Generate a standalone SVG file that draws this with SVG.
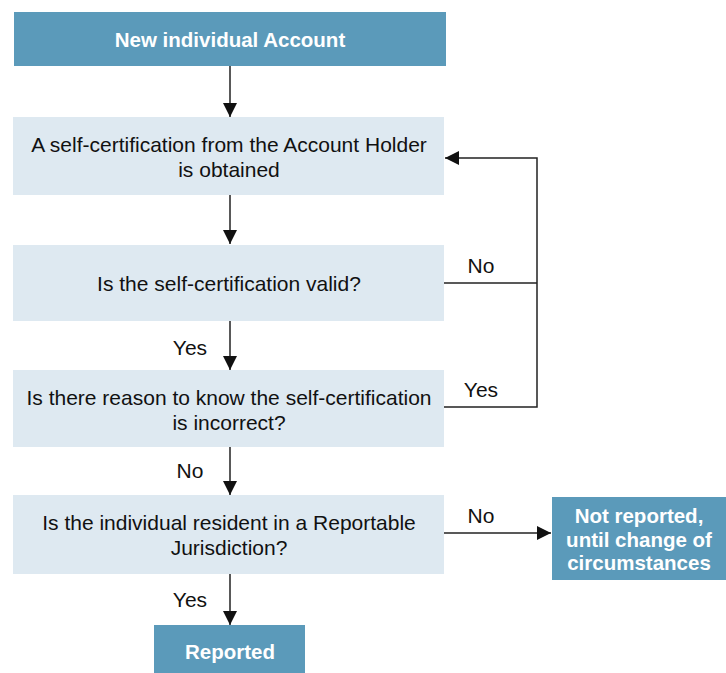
<svg xmlns="http://www.w3.org/2000/svg" width="726" height="673" viewBox="0 0 726 673">
<style>
.dark{fill:#5b9aba}
.light{fill:#dee9f1}
.t{font-family:"Liberation Sans",Arial,sans-serif;font-size:21px;fill:#111;text-anchor:middle}
.tb{font-family:"Liberation Sans",Arial,sans-serif;font-size:20.5px;font-weight:bold;fill:#fff;text-anchor:middle}
.lbl{font-family:"Liberation Sans",Arial,sans-serif;font-size:21px;fill:#111;text-anchor:middle}
.c{fill:none;stroke:#222;stroke-width:1.5}
</style>
<defs>
<marker id="ahl" viewBox="0 0 10 10" refX="10" refY="5" markerWidth="14" markerHeight="14" markerUnits="userSpaceOnUse" orient="auto">
<path d="M0,0 L10,5 L0,10 z" fill="#111"/>
</marker>
</defs>
<rect width="726" height="673" fill="#fff"/>
<g id="connectors">
<line class="c" x1="230" y1="66" x2="230" y2="117" marker-end="url(#ahl)"/>
<line class="c" x1="230" y1="195" x2="230" y2="244" marker-end="url(#ahl)"/>
<line class="c" x1="230" y1="321" x2="230" y2="370" marker-end="url(#ahl)"/>
<line class="c" x1="230" y1="447" x2="230" y2="495" marker-end="url(#ahl)"/>
<line class="c" x1="230" y1="574" x2="230" y2="625" marker-end="url(#ahl)"/>
<polyline class="c" points="444,283 537,283"/>
<polyline class="c" points="444,407 537,407 537,158 445,158" marker-end="url(#ahl)"/>
<line class="c" x1="444" y1="533" x2="551" y2="533" marker-end="url(#ahl)"/>
<text class="lbl" x="481" y="273">No</text>
<text class="lbl" x="481" y="397">Yes</text>
<text class="lbl" x="190" y="355">Yes</text>
<text class="lbl" x="190" y="478">No</text>
<text class="lbl" x="481" y="523">No</text>
<text class="lbl" x="190" y="607">Yes</text>
</g>
<g id="n1"><rect class="dark" x="14" y="12" width="432" height="54"/><text class="tb" x="230" y="47">New individual Account</text></g>
<g id="n2"><rect class="light" x="13" y="117" width="431" height="78"/><text class="t" x="229" y="152">A self-certification from the Account Holder</text><text class="t" x="229" y="177">is obtained</text></g>
<g id="n3"><rect class="light" x="13" y="245" width="431" height="76"/><text class="t" x="229" y="291">Is the self-certification valid?</text></g>
<g id="n4"><rect class="light" x="13" y="370" width="431" height="77"/><text class="t" x="229" y="405">Is there reason to know the self-certification</text><text class="t" x="229" y="430">is incorrect?</text></g>
<g id="n5"><rect class="light" x="13" y="495" width="431" height="79"/><text class="t" x="229" y="530">Is the individual resident in a Reportable</text><text class="t" x="229" y="555">Jurisdiction?</text></g>
<g id="n6"><rect class="dark" x="552" y="497" width="174" height="83"/><text class="tb" x="639" y="523">Not reported,</text><text class="tb" x="639" y="547">until change of</text><text class="tb" x="639" y="570">circumstances</text></g>
<g id="n7"><rect class="dark" x="154" y="625" width="151" height="48"/><text class="tb" x="230" y="659">Reported</text></g>
</svg>
